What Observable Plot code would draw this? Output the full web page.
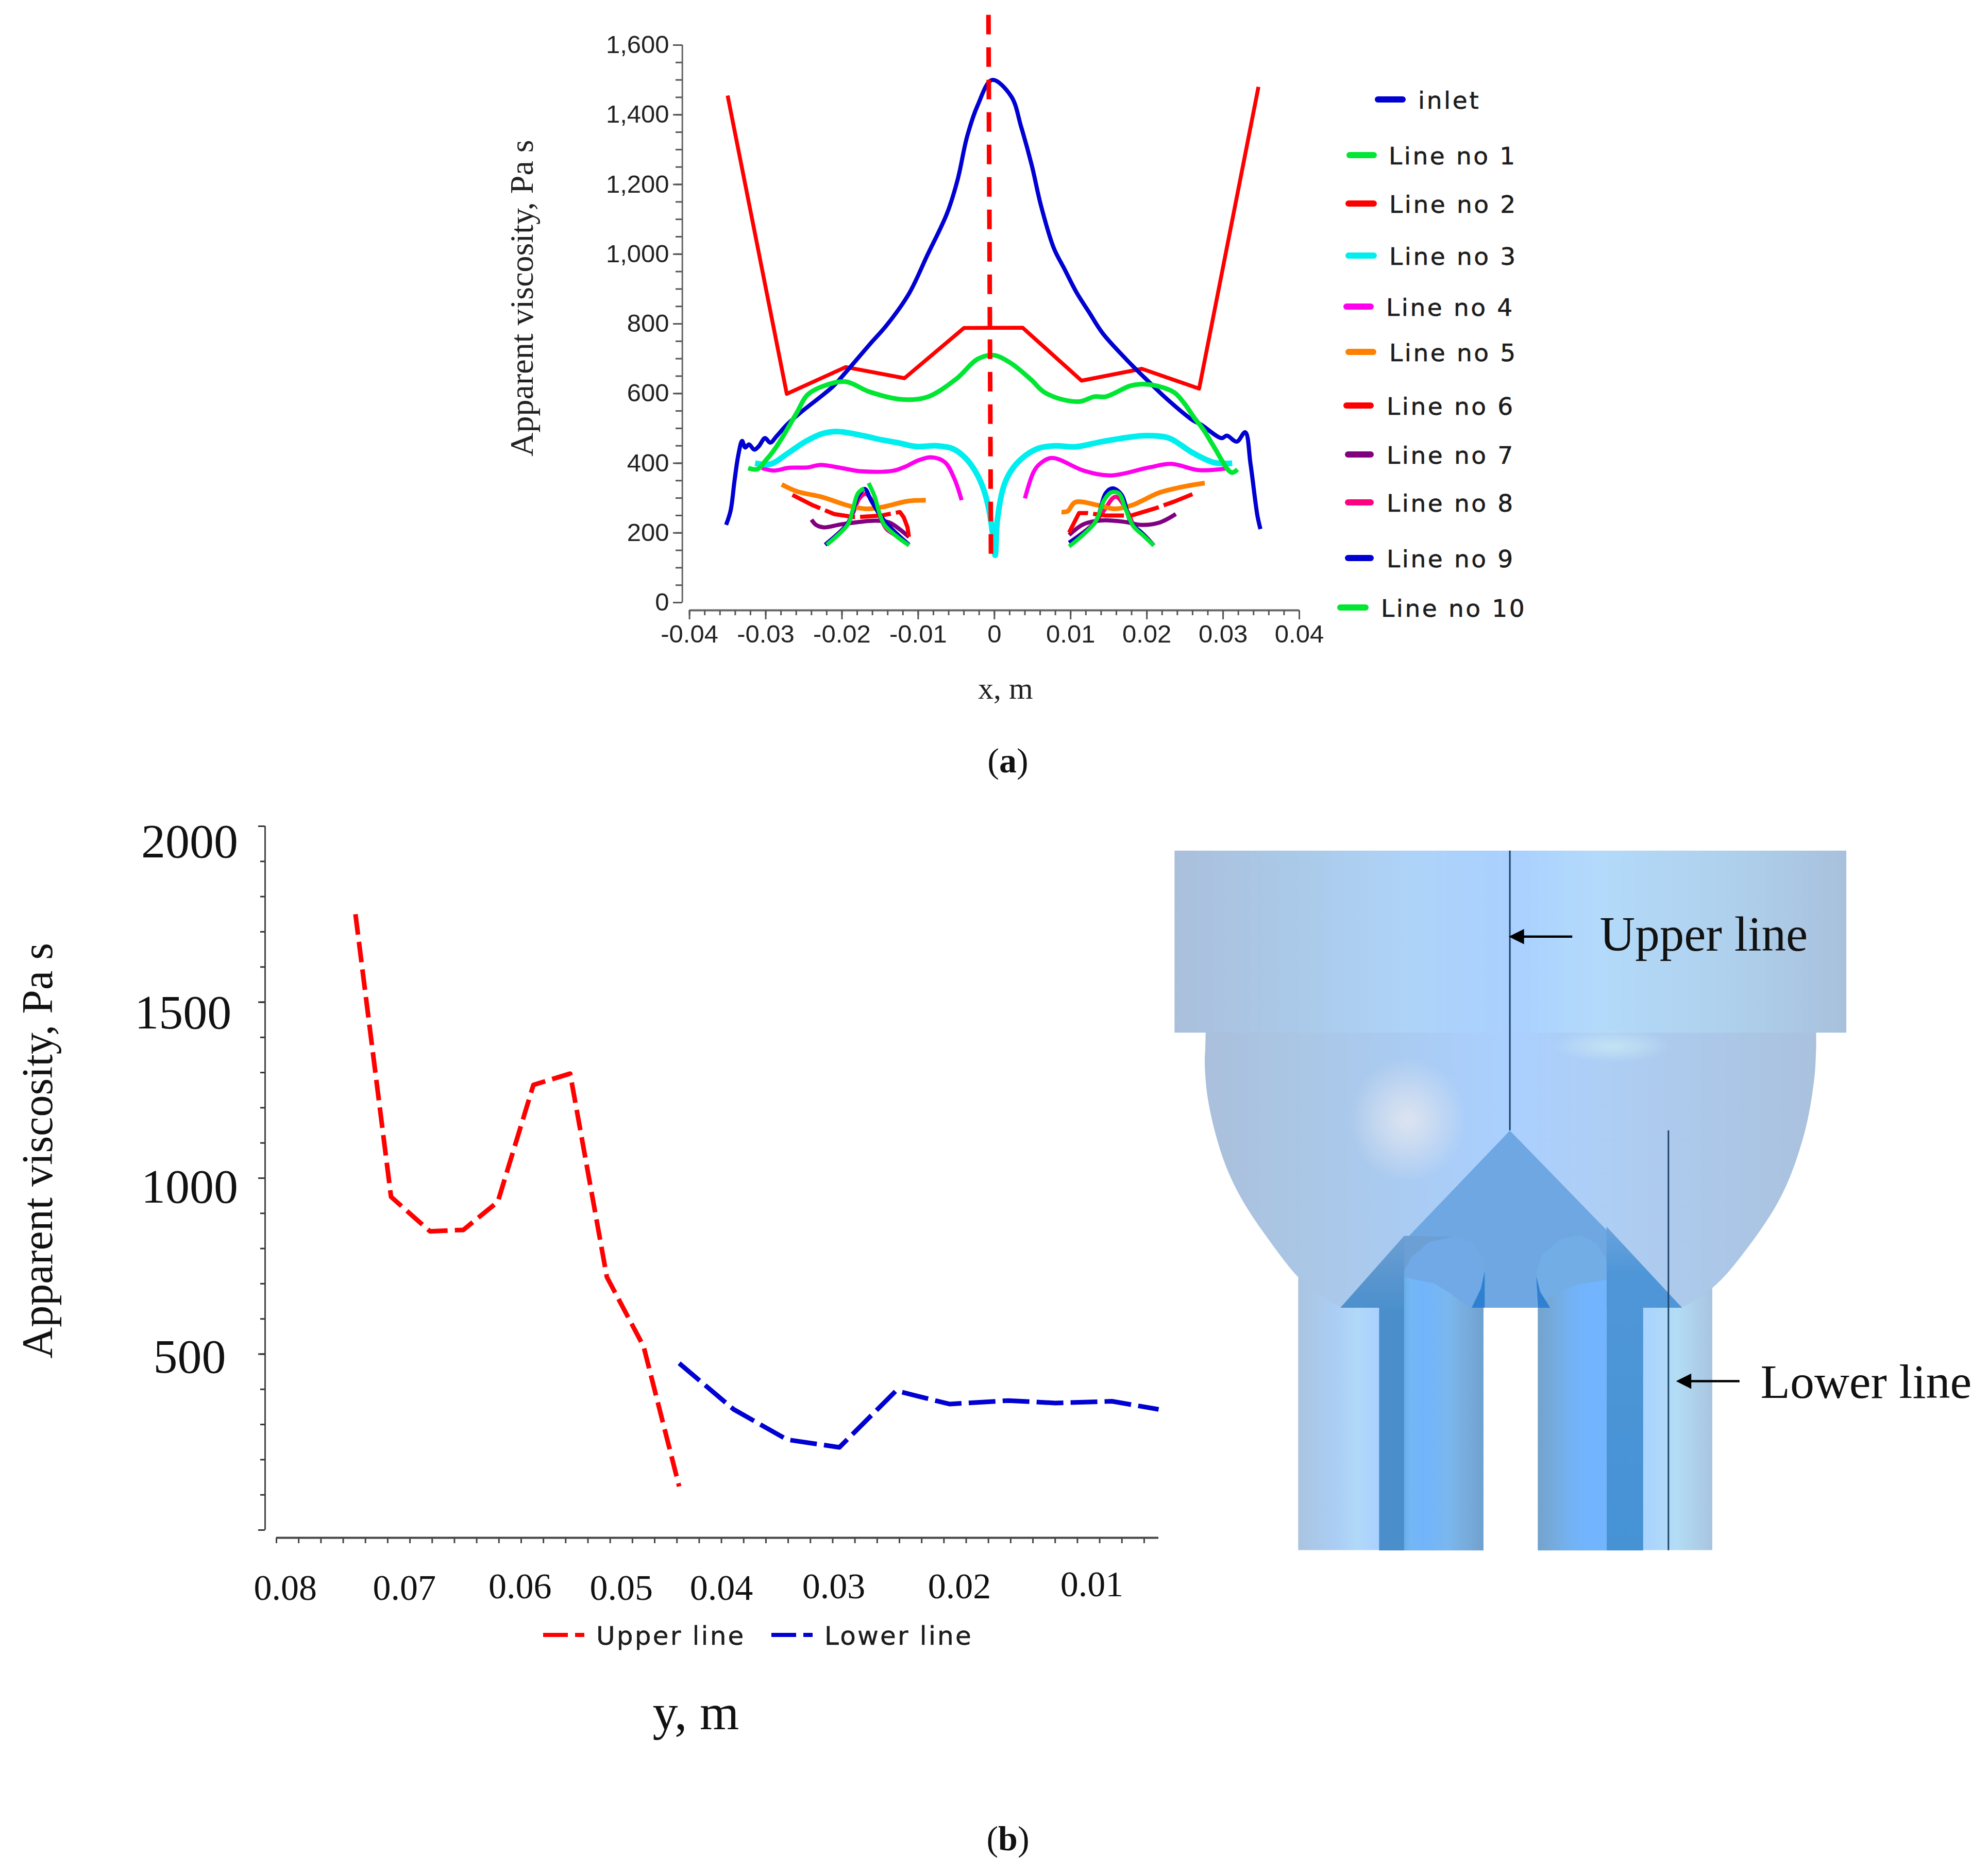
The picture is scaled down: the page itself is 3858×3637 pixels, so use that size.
<!DOCTYPE html>
<html>
<head>
<meta charset="utf-8">
<script src="https://cdn.jsdelivr.net/npm/d3@7"></script>
<script src="https://cdn.jsdelivr.net/npm/@observablehq/plot@0.6"></script>
<style>
html,body{margin:0;background:#fff}
#page{position:relative;width:3858px;height:3637px;background:#fff;overflow:hidden}
#page svg{position:absolute;max-width:none}
.lab{position:absolute;white-space:nowrap;line-height:1;transform:translateY(-50%);color:#1c1c1c}
.sw{position:absolute}
</style>
</head>
<body>
<div id="page"></div>
<script>
// ---------- Chart (a): apparent viscosity [x (m), Pa s] ----------
const inlet = [[-.0352,223],[-.0346,265],[-.0341,349],[-.0336,423],[-.0331,464],[-.0327,445],[-.0322,454],[-.0315,439],[-.0309,449],[-.0301,472],[-.0294,459],[-.0286,477],[-.0272,511],[-.0254,546],[-.0212,620],[-.0195,661],[-.0164,740],[-.0141,797],[-.0112,887],[-.0088,997],[-.0062,1118],[-.0048,1216],[-.0036,1336],[-.0022,1427],[-.0003,1500],[.0022,1453],[.0035,1366],[.0049,1255],[.0061,1140],[.0078,1017],[.0092,957],[.0108,889],[.0124,834],[.0142,773],[.0173,698],[.0193,654],[.0227,583],[.0261,522],[.0271,511],[.0298,472],[.0305,479],[.0318,462],[.0329,489],[.0336,398],[.0345,250],[.0349,211]];
const line1 = [[-.0323,386],[-.0311,383],[-.03,408],[-.029,435],[-.0276,482],[-.0259,546],[-.0245,597],[-.0221,624],[-.0195,634],[-.0164,605],[-.0121,583],[-.0088,590],[-.005,642],[-.0022,699],[-.0001,710],[.0021,688],[.0048,640],[.0064,606],[.0084,586],[.0112,577],[.0131,591],[.0146,591],[.0178,622],[.0193,627],[.0213,622],[.0236,603],[.0249,572],[.0263,528],[.0274,497],[.0288,447],[.0307,380],[.0312,373],[.0319,382]];
const line2 = [[-.035,1455],[-.02724,599],[-.0195,676],[-.0118,644],[-.004,788],[.0037,789],[.01143,637],[.01935,671],[.02686,614],[.03464,1480]];
const line3 = [[-.0314,400],[-.0293,398],[-.0272,427],[-.0248,462],[-.0227,484],[-.0207,491],[-.0172,479],[-.0148,467],[-.0127,459],[-.0103,448],[-.0076,450],[-.0055,442],[-.0038,415],[-.0024,373],[-.0014,324],[-.0007,265],[-.0002,191],[.0001,136],[.0004,240],[.0013,339],[.0025,388],[.0042,424],[.0058,443],[.008,450],[.0106,447],[.0141,462],[.0175,474],[.0199,479],[.0229,472],[.026,430],[.0288,402],[.0312,400]];
const line4L = [[-.0305,386],[-.029,379],[-.0269,387],[-.0245,388],[-.0229,395],[-.02,386],[-.0176,377],[-.0134,378],[-.0117,390],[-.01,408],[-.0083,417],[-.0065,403],[-.0053,358],[-.0043,294]];
const line4R = [[.004,299],[.0051,373],[.0058,395],[.0075,415],[.0118,378],[.0153,365],[.0203,388],[.0232,398],[.0269,380],[.0307,386]];
const line5L = [[-.0279,339],[-.0259,319],[-.0228,304],[-.0186,275],[-.0165,269],[-.0145,275],[-.0114,291],[-.009,294]];
const line5R = [[.0088,260],[.0096,262],[.0106,288],[.0137,279],[.0158,269],[.018,279],[.0217,316],[.0251,334],[.0276,343]];
const line6L = [[-.0265,309],[-.0238,279],[-.021,254],[-.0183,245],[-.0148,250],[-.0124,260],[-.0119,245],[-.0114,216],[-.0112,186]];
const line6R = [[.0098,201],[.0111,257],[.0122,257],[.0146,250],[.018,250],[.0213,272],[.0236,290],[.0262,313]];
const line7L = [[-.024,238],[-.0234,223],[-.0224,216],[-.02,225],[-.0155,235],[-.0138,230],[-.0124,210],[-.0112,188]];
const line7R = [[.0098,194],[.0117,225],[.0141,236],[.017,232],[.0193,223],[.0217,230],[.0238,254]];
const line8L = [[-.0222,166],[-.0193,225],[-.0186,254],[-.0177,299],[-.0169,312],[-.0158,284],[-.0148,235],[-.0141,210],[-.0131,195],[-.0112,166]];
const line8R = [[.0098,172],[.0132,230],[.0144,265],[.0159,304],[.0175,260],[.0184,216],[.0196,195],[.0209,164]];
const line9L = [[-.0222,166],[-.0193,225],[-.0186,260],[-.0179,304],[-.017,326],[-.0162,294],[-.0148,245],[-.0134,210],[-.0112,166]];
const line9R = [[.0098,172],[.0132,230],[.0146,314],[.0155,328],[.0167,309],[.0179,230],[.0193,201],[.0209,164]];
const line10L = [[-.022,166],[-.0192,225],[-.0186,265],[-.0179,314],[-.0171,328]];
const line10M = [[-.0165,343],[-.0157,304],[-.0152,265],[-.0145,225],[-.0131,195],[-.0112,164]];
const line10R = [[.0098,161],[.0132,230],[.0144,294],[.0153,316],[.0163,314],[.0172,269],[.0182,220],[.0196,191],[.0209,164]];
const centreLine = [[-.00078,1687],[-.00045,123]];

const aTicksX = [-.04,-.03,-.02,-.01,0,.01,.02,.03,.04];
const aMinorX = d3.range(-20,21).map(i => i*.002);
const aTicksY = [0,200,400,600,800,1000,1200,1400,1600];
const aMinorY = d3.range(0,33).map(i => i*50);

const blue="#0000d2", green="#00e632", red="#ff0000", cyan="#00eeee", magenta="#ff00ee", orange="#ff8000", purple="#800080", pink="#ff0080";
const legendANames = ["inlet","Line no 1","Line no 2","Line no 3","Line no 4","Line no 5","Line no 6","Line no 7","Line no 8","Line no 9","Line no 10"];
const legendAColors = [blue,green,red,cyan,magenta,orange,red,purple,pink,blue,green];

// ---------- Chart (b): apparent viscosity along y (m) ----------
const upperLine = [[.0729,1750],[.0697,947],[.0662,849],[.0632,853],[.0601,933],[.0569,1265],[.0536,1297],[.0503,719],[.047,522],[.0438,124]];
const lowerLine = [[.0438,474],[.0389,343],[.0341,257],[.0294,235],[.0243,396],[.0195,358],[.0142,368],[.01,361],[.0049,366],[.0007,343]];
const bTickNames = ["0.08","0.07","0.06","0.05","0.04","0.03","0.02","0.01"];
const bTickSpotX = [.0792,.0685,.0581,.049,.04,.0299,.0186,.0067];
const bTickSpotV = [-165,-165,-161,-165,-165,-161,-161,-155];
const bYNames = ["2000","1500","1000","500"];
const bYSpotX = [.0878,.0884,.0878,.0878];
const bYSpotV = [1955,1470,975,492];
const bMinorX = d3.range(0,40).map(i => .08 - i*.002);
const bMinorY = d3.range(0,21).map(i => i*100);
const bMajorY = [0,500,1000,1500,2000];

// ---------- Schematic outline (schematic units) ----------
const domeOutline = [[132,425],[131,470],[130,500],[135,570],[150,650],[170,720],[200,790],[250,875],[302,950],[340,985],[378,1012],[400,1012],[980,1012],[1005,1012],[1062,972],[1125,890],[1190,775],[1230,650],[1248,540],[1252,470],[1252,425]];
const coneOutline = [[690,642],[1006,1013.7],[379,1013.7]];
const wingL = [[496,863],[379,1013.7],[450,1013.7],[450,1523],[496,1523]];
const wingR = [[867.4,843.5],[1006,1013.7],[934.6,1013.7],[934.6,1523],[867.4,1523]];
const shadeL = [[496,863],[585,865],[542,876],[509,908],[496,937]];
const headL = [[496,937],[509,908],[542,876],[585,865],[620,876],[641.6,908],[644,937],[644,1013.7],[496,1013.7]];
const headR = [[739,937],[750,901],[785,869],[820,861.5],[850,880],[867.4,912],[867.4,1013.7],[739,1013.7]];
const coreL = [[496,948],[516,955],[550.5,962.5],[576.5,980.5],[602.5,1002],[620,1013.7],[641.6,1013.7],[641.6,1523],[496,1523]];
const coreR = [[867.4,955],[811,966],[772,984],[746,1009],[741.5,1013.7],[741.5,1523],[867.4,1523]];
const notchL = [[643.8,937],[637,973],[620,1013.7],[643.8,1013.7]];
const notchR = [[738.5,948],[745.8,980.5],[764,1013.7],[741.5,1013.7]];
const arrowHeadU = [[688,235],[716,219],[716,251]];
const arrowHeadL = [[995,1168],[1023,1152],[1023,1184]];

const serif = "'Liberation Serif', serif";
const page = document.getElementById("page");
function place(svg, left, top){ svg.style.left = left+"px"; svg.style.top = top+"px"; page.appendChild(svg); }

const seg = (arr, color, w, extra={}) => Plot.line(arr, {x:d=>d[0], y:d=>d[1], stroke:color, strokeWidth:w, strokeLinecap:"butt", ...extra});
const smooth = (arr, color, w, extra={}) => seg(arr, color, w, {curve:"catmull-rom", ...extra});

// ---- (a)
const A = {left:950, top:0, w:1640, h:1400};
const plotA = Plot.plot({
  width:A.w, height:A.h,
  marginLeft:374, marginBottom:216, marginTop:0, marginRight:0,
  x:{domain:[-.04,.04], range:[387.6,1571], axis:null},
  y:{domain:[0,1600], range:[1169,87], axis:null},
  style:{fontFamily:"'Liberation Sans', sans-serif", fontSize:"49px", background:"transparent", color:"#222"},
  marks:[
    Plot.ruleX([-.04094],{y1:0,y2:1600,stroke:"#666",strokeWidth:3}),
    Plot.ruleY([-22],{x1:-.04,x2:.04,stroke:"#666",strokeWidth:4}),
    Plot.axisY(aMinorY,{anchor:"left",tickSize:13,text:null,label:null,stroke:"#555",strokeWidth:3}),
    Plot.axisY(aTicksY,{anchor:"left",tickSize:18,tickPadding:8,tickFormat:d3.format(","),label:null,stroke:"#555",strokeWidth:3,fill:"#222"}),
    Plot.axisX(aMinorX,{anchor:"bottom",tickSize:10,text:null,label:null,stroke:"#555",strokeWidth:3}),
    Plot.axisX(aTicksX,{anchor:"bottom",tickSize:18,tickPadding:10,tickFormat:d=>String(d),label:null,stroke:"#555",strokeWidth:3,fill:"#222"}),
    seg(line2,red,7.5),
    smooth(inlet,blue,8),
    smooth(line8L,pink,8), smooth(line8R,pink,8),
    smooth(line7L,purple,8), smooth(line7R,purple,8),
    smooth(line5L,orange,9), smooth(line5R,orange,9),
    seg(line6L,red,8,{strokeDasharray:"60,10"}), seg(line6R,red,8,{strokeDasharray:"60,10"}),
    smooth(line4L,magenta,8), smooth(line4R,magenta,8),
    smooth(line3,cyan,11),
    smooth(line1,green,9),
    smooth(line9L,blue,8), smooth(line9R,blue,8),
    smooth(line10L,green,8), smooth(line10M,green,8), smooth(line10R,green,8),
    seg(centreLine,red,9,{strokeDasharray:"38,25"}),
    Plot.text(["Apparent viscosity, Pa s"],{x:-.06197,y:874,rotate:-90,fontFamily:serif,fontSize:64,fill:"#222"}),
    Plot.text(["x, m"],{x:.00145,y:-247,fontFamily:serif,fontSize:60,fill:"#222"})
  ]
});
place(plotA,A.left,A.top);

// legend (a)
const legendASpots = [[2668,2728,193,2752],[2613,2672,301,2695],[2611,2672,395,2696],[2611,2672,496,2696],[2607,2666,595,2690],[2611,2671,683,2696],[2607,2666,787,2691],[2610,2666,882,2691],[2610,2666,975,2691],[2610,2666,1083,2691],[2595,2656,1179,2680]];
legendANames.forEach((name,i)=>{
  const [x0,x1,cy,tx] = legendASpots[i];
  const s = document.createElement("div"); s.className="sw";
  s.style.cssText = `left:${x0}px;top:${cy-6}px;width:${x1-x0}px;height:12px;border-radius:6px;background:${legendAColors[i]}`;
  page.appendChild(s);
  const t = document.createElement("div"); t.className="lab"; t.textContent=name;
  t.style.cssText = `left:${tx}px;top:${cy+1}px;font:47px 'DejaVu Sans',sans-serif;letter-spacing:3.6px;line-height:1;-webkit-text-stroke:.6px #1c1c1c`;
  page.appendChild(t);
});

// ---- (b)
const B = {left:0, top:1500, w:2320, h:1900};
const plotB = Plot.plot({
  width:B.w, height:B.h,
  marginLeft:514, marginBottom:416, marginTop:0, marginRight:0,
  x:{domain:[.08,.0007], range:[536,2248], axis:null},
  y:{domain:[0,2000], range:[1469,103], axis:null},
  style:{fontFamily:serif, fontSize:"70px", background:"transparent", color:"#222"},
  marks:[
    Plot.ruleX([.08102],{y1:0,y2:2000,stroke:"#444",strokeWidth:3}),
    Plot.ruleY([-22],{x1:.08,x2:.0007,stroke:"#444",strokeWidth:4}),
    Plot.axisY(bMinorY,{anchor:"left",tickSize:9,text:null,label:null,stroke:"#333",strokeWidth:3}),
    Plot.axisY(bMajorY,{anchor:"left",tickSize:13,text:null,label:null,stroke:"#333",strokeWidth:3}),
    Plot.axisX(bMinorX,{anchor:"bottom",tickSize:11,text:null,label:null,stroke:"#444",strokeWidth:3}),
    Plot.text(bYNames,{x:(d,i)=>bYSpotX[i],y:(d,i)=>bYSpotV[i],fontFamily:serif,fontSize:94,fill:"#111"}),
    Plot.text(bTickNames,{x:(d,i)=>bTickSpotX[i],y:(d,i)=>bTickSpotV[i],fontFamily:serif,fontSize:70,fill:"#111"}),
    seg(upperLine,red,9,{strokeDasharray:"40,14"}),
    seg(lowerLine,blue,9,{strokeDasharray:"52,14"}),
    Plot.text(["Apparent viscosity, Pa s"],{x:.1014,y:1078,rotate:-90,fontFamily:serif,fontSize:84,fill:"#111"}),
    Plot.text(["y, m"],{x:.0423,y:-520,fontFamily:serif,fontSize:98,fill:"#111"})
  ]
});
place(plotB,B.left,B.top);

// legend (b)
const legendBNames = ["Upper line","Lower line"];
const legendBColors = [red,blue];
const legendBSpots = [[1054,1157],[1497,1600]];
legendBNames.forEach((name,i)=>{
  const [sx,tx] = legendBSpots[i];
  [[0,48],[62,18]].forEach(([off,len])=>{
    const s=document.createElement("div"); s.className="sw";
    s.style.cssText=`left:${sx+off}px;top:3169px;width:${len}px;height:8px;background:${legendBColors[i]}`;
    page.appendChild(s);
  });
  const t=document.createElement("div"); t.className="lab"; t.textContent=name;
  t.style.cssText=`left:${tx}px;top:3175px;font:50px 'DejaVu Sans',sans-serif;letter-spacing:3.2px;line-height:1;-webkit-text-stroke:.5px #1c1c1c`;
  page.appendChild(t);
});

// ---- schematic
const stops = (id, list) => `<linearGradient id="${id}" x1="0" x2="1" y1="0" y2="0">${list.map(([o,c])=>`<stop offset="${o}" stop-color="${c}"/>`).join("")}</linearGradient>`;
const vstops = (id, list) => `<linearGradient id="${id}" x1="0" x2="0" y1="0" y2="1">${list.map(([o,c])=>`<stop offset="${o}" stop-color="${c}"/>`).join("")}</linearGradient>`;
const radial = (id, c) => `<radialGradient id="${id}"><stop offset="0" stop-color="${c}"/><stop offset=".3" stop-color="${c}" stop-opacity=".75"/><stop offset="1" stop-color="${c}" stop-opacity="0"/></radialGradient>`;
const gradientDefs = () => {
  const d = document.createElementNS("http://www.w3.org/2000/svg","defs");
  d.innerHTML =
    stops("grTop",[[0,"#aabfdc"],[.18,"#aac9e8"],[.35,"#aed3f8"],[.5,"#a9d0ff"],[.63,"#b3dafa"],[.83,"#aed0ec"],[1,"#a8c0dc"]]) +
    stops("grDome",[[0,"#aabfdb"],[.15,"#aac6e4"],[.5,"#aad0ff"],[.68,"#aecdf2"],[1,"#a9c1dd"]]) +
    stops("grPipeL",[[0,"#a9c4e0"],[.2,"#abcdf4"],[.32,"#b0d8f8"],[.45,"#a9d0ff"],[1,"#a9d0ff"]]) +
    stops("grPipeR",[[0,"#a9d0ff"],[.6,"#a9d2ff"],[.8,"#b3dcf5"],[1,"#a8c4e0"]]) +
    stops("grHeadL",[[0,"#6aaee8"],[.08,"#74b7f4"],[.25,"#72b4fc"],[.55,"#79b7ee"],[.78,"#78acdc"],[1,"#6fa1cf"]]) +
    stops("grHeadR",[[0,"#74a2cc"],[.25,"#75acdf"],[.5,"#72b2f5"],[.75,"#72b4ff"],[1,"#72b4fc"]]) +
    vstops("grWingL",[[0,"#6c9fd3"],[.12,"#5a96cf"],[.24,"#4a8fcc"],[1,"#4a8fcc"]]) +
    vstops("grWingR",[[0,"#6aa3dc"],[.14,"#4f96d8"],[1,"#4592d4"]]) +
    radial("hl1","#dbe3f0") + radial("hl2","#c2e2f4");
  return d;
};
const poly = (arr, fill, extra={}) => Plot.line(arr,{x:d=>d[0],y:d=>d[1],fill,stroke:"none",...extra});
const schem = Plot.plot({
  width:1658, height:1450,
  margin:0,
  x:{domain:[0,1568],range:[0,1658],axis:null},
  y:{domain:[0,1568],range:[0,1450],axis:null},
  style:{background:"transparent"},
  marks:[
    gradientDefs,
    Plot.rect([0],{x1:302,x2:641.6,y1:900,y2:1523,fill:"url(#grPipeL)"}),
    Plot.rect([0],{x1:741.5,x2:1062,y1:900,y2:1523,fill:"url(#grPipeR)"}),
    poly(domeOutline,"url(#grDome)",{curve:"catmull-rom"}),
    Plot.rect([0],{x1:75,x2:1308,y1:55,y2:437,fill:"url(#grTop)"}),
    Plot.rect([0],{x1:395,x2:610,y1:490,y2:750,fill:"url(#hl1)"}),
    Plot.rect([0],{x1:770,x2:985,y1:430,y2:500,fill:"url(#hl2)"}),
    poly(coneOutline,"#6ea7e2"),
    poly(wingL,"url(#grWingL)"),
    poly(wingR,"url(#grWingR)"),
    poly(shadeL,"#6c9fd3"),
    poly(headL,"#70a9e6"),
    poly(headR,"#72ade6"),
    poly(coreL,"url(#grHeadL)"),
    poly(coreR,"url(#grHeadR)"),
    poly(notchL,"#2f80d0"),
    poly(notchR,"#2f80d0"),
    Plot.ruleX([690],{y1:55,y2:642,stroke:"#1c3f5e",strokeWidth:3}),
    Plot.ruleX([981],{y1:642,y2:1523,stroke:"#1c4468",strokeWidth:3}),
    Plot.ruleY([235],{x1:710,x2:805,stroke:"#000",strokeWidth:4.5}),
    Plot.ruleY([1168],{x1:1017,x2:1112,stroke:"#000",strokeWidth:4.5}),
    poly(arrowHeadU,"#000"),
    poly(arrowHeadL,"#000"),
    Plot.text(["Upper line"],{x:855,y:232,textAnchor:"start",fontFamily:serif,fontSize:95,fill:"#111"}),
    Plot.text(["Lower line"],{x:1150,y:1170,textAnchor:"start",fontFamily:serif,fontSize:94,fill:"#111"})
  ]
});
place(schem,2200,1600);

// sub-figure captions
[["a",1476],["b",3568]].forEach(([k,cy])=>{
  const t=document.createElement("div"); t.className="lab";
  t.innerHTML=`(<b>${k}</b>)`;
  t.style.cssText=`left:1956px;top:${cy}px;transform:translate(-50%,-50%);font:68px ${serif};color:#111;line-height:1`;
  page.appendChild(t);
});
</script>
</body>
</html>
